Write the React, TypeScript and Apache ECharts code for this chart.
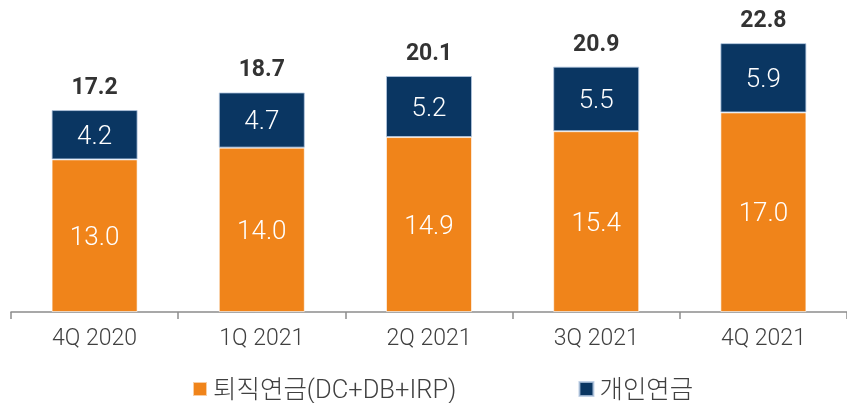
import React, { useEffect, useRef } from "react";
import * as echarts from "echarts";

const categories = ["4Q 2020", "1Q 2021", "2Q 2021", "3Q 2021", "4Q 2021"];
const retirement = [13.0, 14.0, 14.9, 15.4, 17.0];
const personal = [4.2, 4.7, 5.2, 5.5, 5.9];
const totals = [17.2, 18.7, 20.1, 20.9, 22.8];
const seriesNames = ["퇴직연금(DC+DB+IRP)", "개인연금"];

const FONT = "Roboto, 'Noto Sans CJK KR', sans-serif";

export default function App() {
  const ref = useRef<HTMLDivElement>(null);
  useEffect(() => {
    if (!ref.current) return;
    const chart = echarts.init(ref.current, undefined, { renderer: "svg" });
    chart.setOption({
      animation: false,
      grid: { left: 11, width: 841, top: 18.5, bottom: 91 },
      legend: {
        data: seriesNames.map((n) => ({ name: n })),
        left: 187,
        top: 370,
        icon: "rect",
        itemWidth: 14,
        itemHeight: 14,
        itemGap: 122,
        textStyle: { fontFamily: FONT, fontSize: 25.5, color: "#404040", fontWeight: 300, lineHeight: 28, padding: [0, 0, 0, 1] },
      },
      xAxis: {
        type: "category",
        data: categories,
        axisLine: { lineStyle: { color: "#8c8c8c", width: 1.5 } },
        axisTick: { show: true, length: 7, alignWithLabel: false, lineStyle: { color: "#8c8c8c", width: 1.5 } },
        axisLabel: { fontFamily: FONT, fontSize: 23, color: "#404040", margin: 14, fontWeight: 300 },
      },
      yAxis: { type: "value", min: 0, max: 25, show: false, splitLine: { show: false } },
      series: [
        {
          name: seriesNames[0],
          type: "bar",
          stack: "s",
          barWidth: 86,
          data: retirement,
          itemStyle: { color: "#F0841A", borderColor: "rgba(255,255,255,0.6)", borderWidth: 1 },
          label: {
            show: true,
            position: "inside",
            formatter: (p: any) => p.value.toFixed(1),
            fontFamily: FONT,
            fontSize: 26,
            fontWeight: 300,
            color: "#ffffff",
          },
        },
        {
          name: seriesNames[1],
          type: "bar",
          stack: "s",
          data: personal,
          itemStyle: { color: "#0A3662", borderColor: "rgba(180,200,225,0.8)", borderWidth: 1 },
          label: {
            show: true,
            position: "inside",
            formatter: (p: any) => p.value.toFixed(1),
            fontFamily: FONT,
            fontSize: 26,
            fontWeight: 300,
            color: "#ffffff",
          },
        },
        {
          name: "total",
          type: "bar",
          stack: "s",
          data: totals.map(() => 0),
          itemStyle: { color: "transparent" },
          label: {
            show: true,
            position: "top",
            distance: 12,
            formatter: (p: any) => totals[p.dataIndex].toFixed(1),
            fontFamily: FONT,
            fontSize: 23,
            fontWeight: "bold",
            color: "#333333",
          },
        },
      ],
    });
    return () => chart.dispose();
  }, []);
  return <div ref={ref} style={{ width: 847, height: 403, position: "fixed", left: 0, top: 0 }} />;
}
